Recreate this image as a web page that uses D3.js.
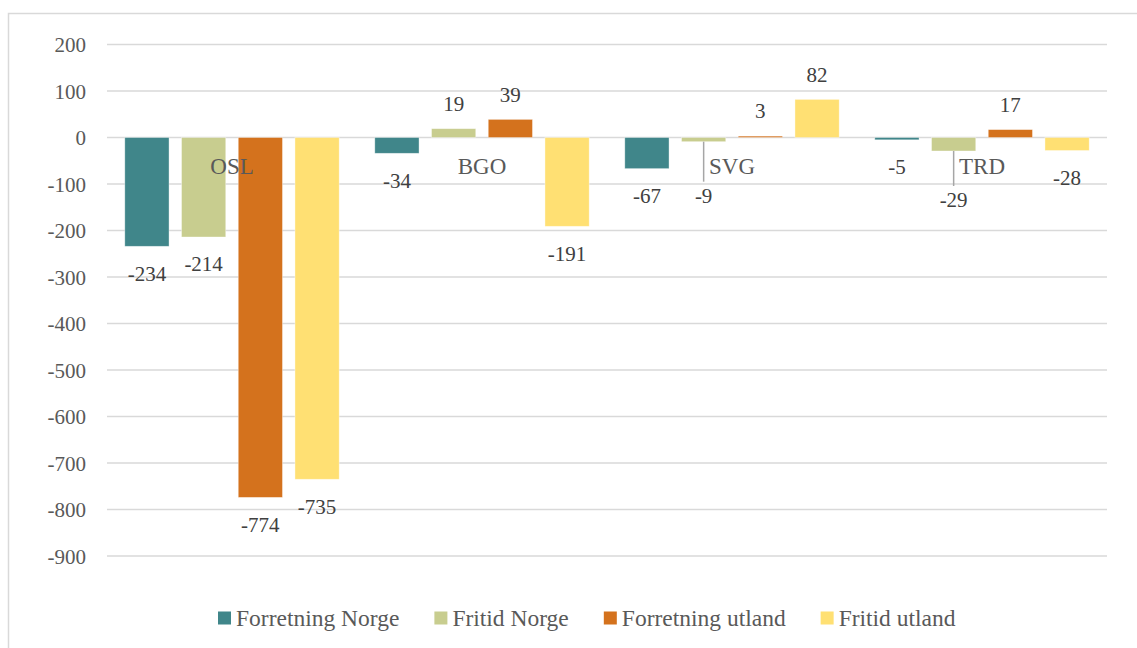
<!DOCTYPE html>
<html>
<head>
<meta charset="utf-8">
<script src="https://cdn.jsdelivr.net/npm/d3@7"></script>
<style>
    body { margin: 0; background: #fff; }
    text { font-family: "Liberation Serif", "Times New Roman", serif; }
</style>
</head>
<body>
<script>
// Chart data
var categories = ["OSL", "BGO", "SVG", "TRD"];
var seriesNames = ["Forretning Norge", "Fritid Norge",
    "Forretning utland", "Fritid utland"];
var forretningNorge = [-234, -34, -67, -5];
var fritidNorge = [-214, 19, -9, -29];
var forretningUtland = [-774, 39, 3, 17];
var fritidUtland = [-735, -191, 82, -28];
var yTicks = [200, 100, 0, -100, -200, -300, -400, -500, -600, -700, -800,
    -900];

var seriesValues = [forretningNorge, fritidNorge, forretningUtland,
    fritidUtland];
var colors = ["#40868A", "#C8CD8F", "#D4721D", "#FFE073"];

// Labels that were dragged down with a leader line (series, category, dy)
var movedLabels = [
    {s: 1, c: 2, dy: 54},
    {s: 1, c: 3, dy: 49}
];

var width = 1137, height = 648;
var plot = {left: 107, right: 1107, top: 44.5, bottom: 556};

var svg = d3.select("body").append("svg")
    .attr("width", width)
    .attr("height", height);

// Outer chart border (only left and top visible)
svg.append("rect")
    .attr("x", 8.5)
    .attr("y", 13.5)
    .attr("width", 1140)
    .attr("height", 650)
    .attr("fill", "none")
    .attr("stroke", "#D9D9D9")
    .attr("stroke-width", 1.5);

var y = d3.scaleLinear()
    .domain([-900, 200])
    .range([plot.bottom, plot.top]);

var x0 = d3.scaleBand()
    .domain(categories)
    .range([plot.left, plot.right])
    .padding(0);

var x1 = d3.scaleBand()
    .domain(d3.range(seriesNames.length))
    .range([17.8, x0.bandwidth() - 17.8])
    .paddingInner(0.22)
    .paddingOuter(0);

// Gridlines
svg.append("g")
    .selectAll("line")
    .data(yTicks)
    .enter().append("line")
    .attr("x1", plot.left)
    .attr("x2", plot.right)
    .attr("y1", function(d) { return y(d); })
    .attr("y2", function(d) { return y(d); })
    .attr("stroke", "#D9D9D9")
    .attr("stroke-width", 1.5);

// Y axis labels (plain hyphen for negatives, as in the original)
var yAxis = d3.axisLeft(y)
    .tickValues(yTicks)
    .tickSize(0)
    .tickPadding(0)
    .tickFormat(function(d) { return String(d); });

var yg = svg.append("g")
    .attr("transform", "translate(86,0)")
    .call(yAxis)
    .attr("font-family", "Liberation Serif");
yg.select(".domain").remove();
yg.selectAll("text")
    .attr("font-size", 21)
    .attr("fill", "#595959")
    .attr("dy", "0.34em");

// Bars
var flat = [];
seriesValues.forEach(function(vals, s) {
    vals.forEach(function(v, c) {
        flat.push({s: s, c: c, v: v});
    });
});

function barX(d) {
    return x0(categories[d.c]) + x1(d.s);
}

svg.append("g")
    .selectAll("rect")
    .data(flat)
    .enter().append("rect")
    .attr("x", barX)
    .attr("width", x1.bandwidth())
    .attr("y", function(d) { return y(Math.max(0, d.v)); })
    .attr("height", function(d) { return Math.abs(y(d.v) - y(0)); })
    .attr("fill", function(d) { return colors[d.s]; })
    .attr("stroke", "#fff")
    .attr("stroke-opacity", 0.5)
    .attr("stroke-width", 0.75);

// Category labels
svg.append("g")
    .selectAll("text")
    .data(categories)
    .enter().append("text")
    .attr("x", function(d) { return x0(d) + x0.bandwidth() / 2; })
    .attr("y", y(0) + 28)
    .attr("dy", "0.35em")
    .attr("text-anchor", "middle")
    .attr("font-size", 23)
    .attr("fill", "#595959")
    .text(function(d) { return d; });

// Data labels
function labelDy(d) {
    var m = movedLabels.find(function(o) {
        return o.s === d.s && o.c === d.c;
    });
    if (m) return m.dy;
    return d.v < 0 ? 27 : -25;
}

// Leader lines for the moved labels
svg.append("g")
    .selectAll("line")
    .data(flat.filter(function(d) {
        return movedLabels.some(function(o) {
            return o.s === d.s && o.c === d.c;
        });
    }))
    .enter().append("line")
    .attr("x1", function(d) { return barX(d) + x1.bandwidth() / 2; })
    .attr("x2", function(d) { return barX(d) + x1.bandwidth() / 2; })
    .attr("y1", function(d) { return y(d.v); })
    .attr("y2", function(d) { return y(d.v) + labelDy(d) - 14; })
    .attr("stroke", "#A6A6A6")
    .attr("stroke-width", 1.5);

svg.append("g")
    .selectAll("text")
    .data(flat)
    .enter().append("text")
    .attr("x", function(d) { return barX(d) + x1.bandwidth() / 2; })
    .attr("y", function(d) { return y(d.v) + labelDy(d); })
    .attr("dy", "0.35em")
    .attr("text-anchor", "middle")
    .attr("font-size", 21)
    .attr("fill", "#404040")
    .text(function(d) { return d.v; });

// Legend
var legend = svg.append("g")
    .attr("transform", "translate(218,618)");

var lx = 0;
seriesNames.forEach(function(name, i) {
    var item = legend.append("g")
        .attr("transform", "translate(" + lx + ",0)");
    item.append("rect")
        .attr("x", 0)
        .attr("y", -6.5)
        .attr("width", 13)
        .attr("height", 13)
        .attr("fill", colors[i]);
    var t = item.append("text")
        .attr("x", 18)
        .attr("y", 0)
        .attr("dy", "0.35em")
        .attr("font-size", 23.5)
        .attr("fill", "#595959")
        .text(name);
    lx += 18 + t.node().getComputedTextLength() + 35;
});
</script>
</body>
</html>
